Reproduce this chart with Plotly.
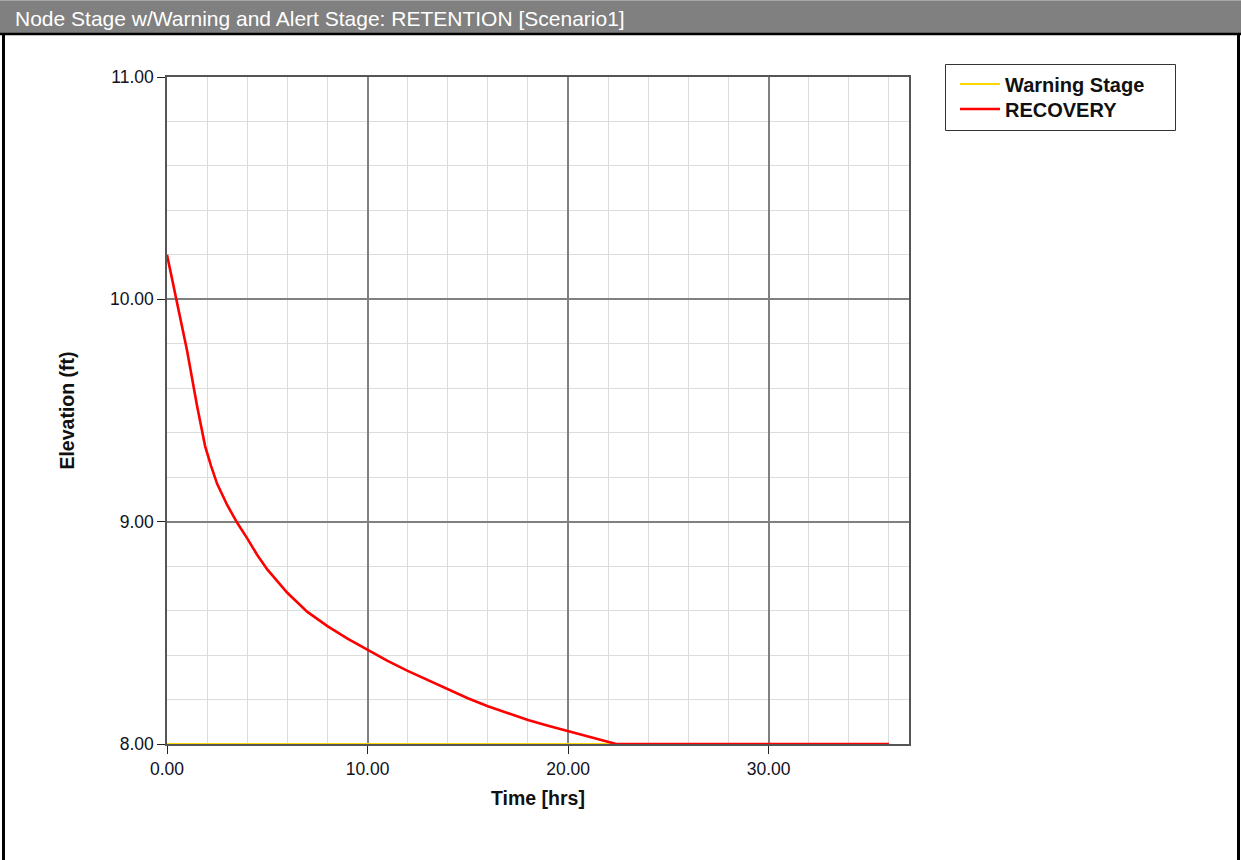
import plotly.graph_objects as go

# ---- data ----
time_hrs = [0, 0.5, 1.0, 1.5, 1.9, 2.2, 2.5, 3.0, 3.5, 4.0, 4.5, 5.0, 5.5, 6, 7, 8, 9,
            10, 11, 12, 13, 14, 15, 16, 17, 18, 19, 20, 21, 22, 22.4, 24, 26, 28, 30,
            32, 34, 36]
recovery = [10.20, 9.99, 9.77, 9.52, 9.34, 9.25, 9.17, 9.075, 8.995, 8.925, 8.85, 8.785,
            8.73, 8.68, 8.594, 8.530, 8.474, 8.423, 8.374, 8.329, 8.287, 8.247, 8.206,
            8.170, 8.138, 8.108, 8.082, 8.058, 8.034, 8.010, 8.0, 8.0, 8.0, 8.0, 8.0,
            8.0, 8.0, 8.0]
warning_time = [0, 36]
warning_stage = [8.0, 8.0]

x_ticks = [0, 10, 20, 30]
y_ticks = [8, 9, 10, 11]

title_text = "Node Stage w/Warning and Alert Stage: RETENTION [Scenario1]"

W, H = 1241, 860
L, R, T, B = 167, 909, 77, 744
pw, ph = R - L, B - T
FONT = "Liberation Sans, Arial, sans-serif"

def px(x):
    return (x - L) / pw

def py(y):
    return (B - y) / ph

fig = go.Figure()
fig.add_trace(go.Scatter(x=warning_time, y=warning_stage, mode="lines",
                         name="Warning Stage", line=dict(color="#FFD700", width=2),
                         cliponaxis=False, legend="legend"))
fig.add_trace(go.Scatter(x=time_hrs, y=recovery, mode="lines", name="RECOVERY",
                         line=dict(color="#FF0000", width=2.6),
                         cliponaxis=False, legend="legend2"))

axis_common = dict(
    showline=True, mirror=True, linecolor="#555555", linewidth=1.5,
    ticks="outside", ticklen=8, tickcolor="#222222", tickwidth=1,
    showgrid=True, gridcolor="#808080", gridwidth=1.5,
    zeroline=False, tickformat=".2f",
    tickfont=dict(family=FONT, size=17.5, color="#111122"),
    layer="below traces",
)

fig.update_xaxes(range=[0, 37], tickvals=x_ticks,
                 minor=dict(dtick=2, tick0=0, showgrid=True, gridcolor="#dcdcdc", gridwidth=1, ticks=""),
                 title=dict(text="<b>Time [hrs]</b>", standoff=14,
                            font=dict(family=FONT, size=19.5, color="#111")),
                 **axis_common)
fig.update_yaxes(range=[8, 11], tickvals=y_ticks,
                 minor=dict(dtick=0.2, tick0=8, showgrid=True, gridcolor="#dcdcdc", gridwidth=1, ticks=""),
                 title=dict(text="<b>Elevation (ft)</b>", standoff=30,
                            font=dict(family=FONT, size=19.5, color="#111")),
                 **axis_common)

shapes = [
    # title bar
    dict(type="rect", xref="paper", yref="paper", x0=px(0), x1=px(W), y0=py(34), y1=py(0),
         fillcolor="#808080", line=dict(width=0), layer="above"),
    dict(type="line", xref="paper", yref="paper", x0=px(0), x1=px(W), y0=py(0.5), y1=py(0.5),
         line=dict(color="#a8a8a8", width=1)),
    dict(type="line", xref="paper", yref="paper", x0=px(0), x1=px(W), y0=py(34), y1=py(34),
         line=dict(color="#000000", width=2.5)),
    # left/right frame borders
    dict(type="line", xref="paper", yref="paper", x0=px(3.5), x1=px(3.5), y0=py(860), y1=py(34),
         line=dict(color="#000000", width=3)),
    dict(type="line", xref="paper", yref="paper", x0=px(1238.5), x1=px(1238.5), y0=py(860), y1=py(34),
         line=dict(color="#000000", width=3)),
    # legend box
    dict(type="rect", xref="paper", yref="paper", x0=px(945.5), x1=px(1175.5), y0=py(130.5), y1=py(64.5),
         fillcolor="rgba(0,0,0,0)", line=dict(color="#333333", width=1)),
]

leg_common = dict(xanchor="left", yanchor="middle", borderwidth=0, bgcolor="rgba(0,0,0,0)",
                  font=dict(family=FONT, size=20, color="#111", weight="bold"),
                  itemwidth=40, tracegroupgap=0)

fig.update_layout(
    width=W, height=H, autosize=False,
    margin=dict(l=L, r=W - R, t=T, b=H - B, pad=0),
    paper_bgcolor="white", plot_bgcolor="white",
    shapes=shapes,
    showlegend=True,
    legend=dict(x=px(955), y=py(84), **leg_common),
    legend2=dict(x=px(955), y=py(109), **leg_common),
    annotations=[dict(text=title_text, xref="paper", yref="paper", x=px(13), y=py(18),
                      xanchor="left", yanchor="middle", showarrow=False,
                      font=dict(family=FONT, size=21, color="white"))],
)

fig.write_html("out.html", config={"displayModeBar": False},
               post_script="document.body.style.margin='0px';")
